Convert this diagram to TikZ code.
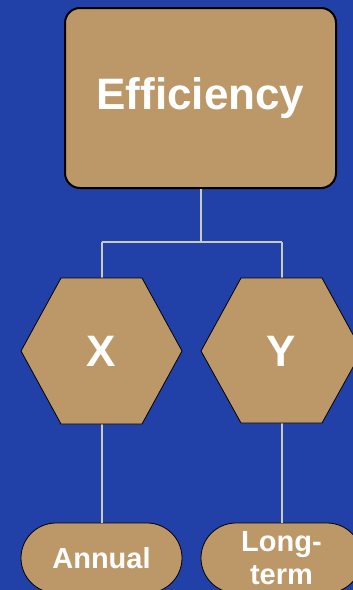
\documentclass[tikz,border=0pt]{standalone}
\usepackage{fontspec}
\setmainfont{Liberation Sans}
\definecolor{bgblue}{RGB}{34,65,168}
\definecolor{tan}{RGB}{188,152,104}
\definecolor{linec}{RGB}{200,204,180}
\begin{document}
\begin{tikzpicture}[x=1pt,y=-1pt,
  box/.style={draw=black,fill=tan,text=white,font=\bfseries},
  conn/.style={draw=linec,line width=2pt},
  hexa/.style={draw=black,fill=tan,line width=0.8pt}]
\fill[bgblue] (0,0) rectangle (353,590);
\useasboundingbox (0,0) rectangle (353,590);
% top box
\node[box,line width=2pt,rounded corners=15pt,minimum width=271pt,minimum height=180pt,
  font=\fontsize{44}{50}\selectfont\bfseries] (eff) at (200.5,98) {Efficiency};
% junction coordinates
\coordinate (j) at (200.5,242);
\coordinate (jl) at (101.5,242);
\coordinate (jr) at (281.5,242);
% hexagons
\coordinate (xt) at (101.5,278);
\coordinate (xb) at (101.5,424);
\coordinate (yt) at (281.5,278);
\coordinate (yb) at (281.5,423);
% bottom pills
\node[box,line width=0.8pt,rounded corners=35pt,minimum width=161pt,minimum height=70pt,
  font=\fontsize{29}{35}\selectfont\bfseries] (ann) at (101.5,558) {Annual};
\node[box,line width=0.8pt,rounded corners=35pt,minimum width=161pt,minimum height=70pt,
  align=center,font=\fontsize{29}{35}\selectfont\bfseries] (lt) at (281.5,558) {Long-\\[-2pt]term};
% connectors
\draw[conn] (eff.south) -- (j);
\draw[conn] (jl) -- (jr);
\draw[conn] (jl) -- (xt);
\draw[conn] (jr) -- (yt);
\draw[conn] (xb) -- (ann.north);
\draw[conn] (yb) -- (lt.north);
% hexagon shapes
\draw[hexa] (61,278) -- (142,278) -- (182,351) -- (142,424) -- (61,424) -- (21,351) -- cycle;
\draw[hexa] (241,278) -- (322,278) -- (362,351) -- (322,423) -- (241,423) -- (201,351) -- cycle;
\node[text=white,font=\fontsize{44}{50}\selectfont\bfseries] (x) at (101.5,351) {X};
\node[text=white,font=\fontsize{44}{50}\selectfont\bfseries] (y) at (281.5,351) {Y};
\end{tikzpicture}
\end{document}
